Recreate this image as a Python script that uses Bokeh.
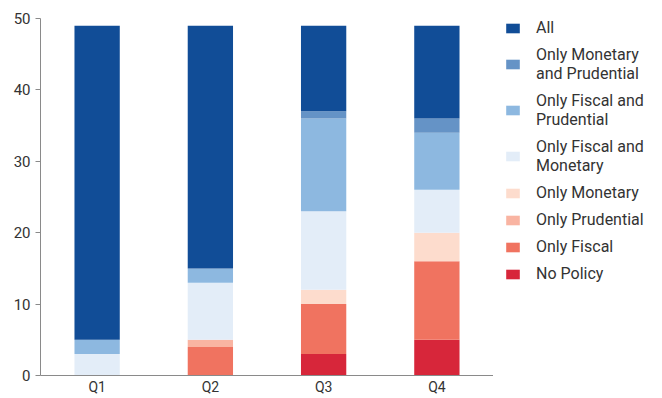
from bokeh.plotting import figure
from bokeh.layouts import row
from bokeh.models import Legend, LegendItem, FactorRange, Range1d, SingleIntervalTicker
from bokeh.embed import file_html
from bokeh.resources import INLINE

# Number of economies by policy mix, per quarter
quarters = ["Q1", "Q2", "Q3", "Q4"]
no_policy = [0, 0, 3, 5]
only_fiscal = [0, 4, 7, 11]
only_prudential = [0, 1, 0, 0]
only_monetary = [0, 0, 2, 4]
fiscal_monetary = [3, 8, 11, 6]
fiscal_prudential = [2, 2, 13, 8]
monetary_prudential = [0, 0, 1, 2]
all_policies = [44, 34, 12, 13]

series_keys = ["no_policy", "only_fiscal", "only_prudential", "only_monetary",
               "fiscal_monetary", "fiscal_prudential", "monetary_prudential", "all"]
series_labels = ["No Policy", "Only Fiscal", "Only Prudential", "Only Monetary",
                 "Only Fiscal and\nMonetary", "Only Fiscal and\nPrudential",
                 "Only Monetary\nand Prudential", "All"]
series_colors = ["#d7263a", "#f07360", "#f9b4a2", "#fddccd",
                 "#e3edf8", "#8db8e0", "#6593c6", "#114d97"]

source = dict(
    quarter=quarters,
    no_policy=no_policy,
    only_fiscal=only_fiscal,
    only_prudential=only_prudential,
    only_monetary=only_monetary,
    fiscal_monetary=fiscal_monetary,
    fiscal_prudential=fiscal_prudential,
    monetary_prudential=monetary_prudential,
    all=all_policies,
)

FONT = "Roboto"
TEXT = "#333333"
AXIS = "#8a8a8a"

p = figure(
    x_range=FactorRange(*quarters, range_padding=0),
    y_range=Range1d(0, 50),
    width=493, height=398,
    output_backend="svg", toolbar_location=None,
    min_border_left=40, min_border_right=0,
    min_border_top=18, min_border_bottom=23,
)
p.outline_line_color = None
p.xgrid.grid_line_color = None
p.ygrid.grid_line_color = None

p.vbar_stack(series_keys, x="quarter", width=0.4, source=source,
             color=series_colors, line_color=None)

# axes
p.yaxis.ticker = SingleIntervalTicker(interval=10)
p.yaxis.minor_tick_line_color = None
p.yaxis.major_tick_in = 0
p.yaxis.major_tick_out = 5
p.yaxis.axis_line_color = AXIS
p.yaxis.major_tick_line_color = AXIS
p.yaxis.major_label_text_font = FONT
p.yaxis.major_label_text_font_size = "15px"
p.yaxis.major_label_text_color = TEXT
p.yaxis.major_label_standoff = 5

p.xaxis.axis_line_color = AXIS
p.xaxis.major_tick_line_color = None
p.xaxis.major_tick_in = 0
p.xaxis.major_tick_out = 0
p.xaxis.minor_tick_line_color = None
p.xaxis.major_label_text_font = FONT
p.xaxis.major_label_text_font_size = "14px"
p.xaxis.major_label_text_color = TEXT
p.xaxis.major_label_standoff = 3

# key panel beside the chart; its swatch renderers hold no visible points
key = figure(width=169, height=398, output_backend="svg", toolbar_location=None,
             min_border=0, min_border_left=11, min_border_top=11,
             x_range=Range1d(0, 1), y_range=Range1d(0, 1))
key.axis.visible = False
key.grid.visible = False
key.outline_line_color = None

nan = float("nan")
swatches = [key.rect(x=[nan], y=[nan], width=1, height=1, color=c, line_color=None)
            for c in series_colors]
items = [LegendItem(label=lab, renderers=[r])
         for lab, r in zip(series_labels, swatches)][::-1]
legend = Legend(items=items, location="top_left")
legend.glyph_width = 17
legend.glyph_height = 12
legend.label_standoff = 15
legend.label_text_font = FONT
legend.label_text_font_size = "16px"
legend.label_text_color = TEXT
legend.spacing = 8
legend.padding = 14
legend.margin = 0
legend.border_line_color = None
legend.background_fill_alpha = 0
key.add_layout(legend, "center")

open("out.html", "w").write(file_html(row(p, key), INLINE))
